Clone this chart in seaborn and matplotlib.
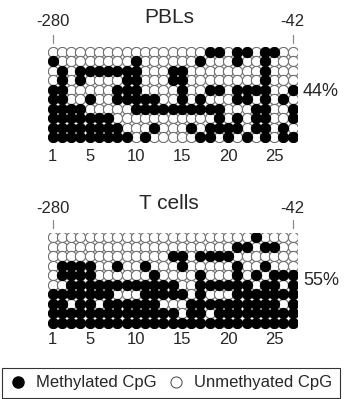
import pandas as pd
import numpy as np
import seaborn as sns
import matplotlib.pyplot as plt
from matplotlib.lines import Line2D

# methylated CpG positions (1..27) for each sequenced clone, top to bottom
pbl_methylated = [
    [18, 19, 21, 22, 24, 25],
    [1, 10, 17, 21, 24],
    [2, 4, 5, 6, 7, 8, 9, 10, 14, 15, 24],
    [2, 4, 9, 10, 14, 15, 24],
    [1, 2, 8, 9, 10, 15, 18, 19, 21, 22, 23, 24, 27],
    [1, 2, 5, 8, 9, 10, 11, 12, 15, 17, 21, 22, 24, 26],
    [1, 2, 3, 4, 10, 11, 12, 13, 14, 15, 16, 17, 18, 19, 23, 24, 27],
    [1, 2, 3, 4, 5, 6, 7, 19, 21, 23, 24, 27],
    [1, 2, 3, 4, 5, 6, 7, 8, 12, 16, 18, 19, 20, 21, 23, 24, 26],
    [1, 2, 3, 4, 5, 6, 7, 8, 9, 11, 17, 18, 20, 22, 24, 26, 27],
]
tcell_methylated = [
    [23],
    [21, 22, 24, 25],
    [14, 15, 17, 18, 19, 20],
    [2, 3, 4, 5, 8, 11, 15, 21, 24],
    [2, 3, 4, 5, 12, 17, 21, 23, 25, 26, 27],
    [3, 4, 5, 6, 7, 8, 9, 10, 11, 12, 13, 14, 17, 18, 19, 20, 21, 22, 24, 25, 27],
    [1, 2, 3, 4, 5, 6, 7, 11, 12, 13, 14, 15, 17, 21, 22, 23, 24, 25, 26, 27],
    [1, 2, 4, 5, 7, 8, 9, 10, 11, 12, 16, 17, 18, 19, 20, 21, 22, 23, 24, 25, 27],
    [c for c in range(1, 28) if c not in (15, 18)],
    list(range(1, 28)),
]
panel_titles = ['PBLs', 'T cells']
panel_percent = ['44%', '55%']
n_cpg = 27
region_start = '-280'
region_end = '-42'
cpg_ticks = [1, 5, 10, 15, 20, 25]


def to_frame(rows):
    recs = []
    for i, blacks in enumerate(rows):
        for c in range(1, n_cpg + 1):
            recs.append({'cpg': c, 'clone': i + 1,
                         'status': 'M' if c in blacks else 'U'})
    return pd.DataFrame(recs)


sns.set_style('white')
plt.rcParams['font.family'] = ['Liberation Sans', 'DejaVu Sans']

W, H = 347, 399
fig = plt.figure(figsize=(W / 100, H / 100), dpi=100)

# axes boxes in pixels: left, top, right, bottom
boxes = [(48.1, 46.9, 297.3, 142.1), (48.1, 232.55, 297.3, 327.55)]
# vertical positions (in row units) of the labels for each panel
label_rows = [
    dict(title=-2.55, ends=-2.12, tick=(0.05, -0.75), nums=12.05, pct=5.15),
    dict(title=-2.6, ends=-1.98, tick=(0.0, -0.85), nums=11.8, pct=5.55),
]

for k, rows in enumerate([pbl_methylated, tcell_methylated]):
    l, t, r, b = boxes[k]
    ax = fig.add_axes([l / W, 1 - b / H, (r - l) / W, (b - t) / H])
    df = to_frame(rows)
    sns.scatterplot(data=df[df.status == 'U'], x='cpg', y='clone', color='white',
                    edgecolor='#6e6e6e', linewidth=0.8, s=54, ax=ax, legend=False)
    sns.scatterplot(data=df[df.status == 'M'], x='cpg', y='clone', color='black',
                    edgecolor='black', linewidth=0.8, s=54, ax=ax, legend=False)
    ax.set_xlim(0.5, n_cpg + 0.5)
    ax.set_ylim(len(rows) + 0.5, 0.5)
    ax.axis('off')

    lr = label_rows[k]
    ax.text(13.6, lr['title'], panel_titles[k], ha='center', va='center', fontsize=15)
    ax.text(1, lr['ends'], region_start, ha='center', va='center', fontsize=12)
    ax.text(n_cpg, lr['ends'], region_end, ha='center', va='center', fontsize=12)
    for c in (1, n_cpg):
        ax.plot([c, c], list(lr['tick']), color='#8a8a8a', lw=0.9, clip_on=False)
    for c in cpg_ticks:
        ax.text(c, lr['nums'], str(c), ha='center', va='center', fontsize=12)
    ax.text(28.1, lr['pct'], panel_percent[k], ha='left', va='center', fontsize=13)

handles = [
    Line2D([], [], marker='o', ls='', markersize=8, markerfacecolor='black',
           markeredgecolor='black', label='Methylated CpG'),
    Line2D([], [], marker='o', ls='', markersize=8, markerfacecolor='white',
           markeredgecolor='#444444', markeredgewidth=0.7, label='Unmethyated CpG'),
]
leg = fig.legend(handles=handles, loc='lower left', ncol=2, mode='expand',
                 bbox_to_anchor=(2 / W, 1 / H, 338 / W, 37 / H), borderaxespad=0,
                 fontsize=12, frameon=True, fancybox=False, handletextpad=0.6,
                 handlelength=1.0, columnspacing=0.8, borderpad=0.45)
leg.get_frame().set_edgecolor('black')
leg.get_frame().set_linewidth(0.8)

fig.savefig('out.png', dpi=100)
